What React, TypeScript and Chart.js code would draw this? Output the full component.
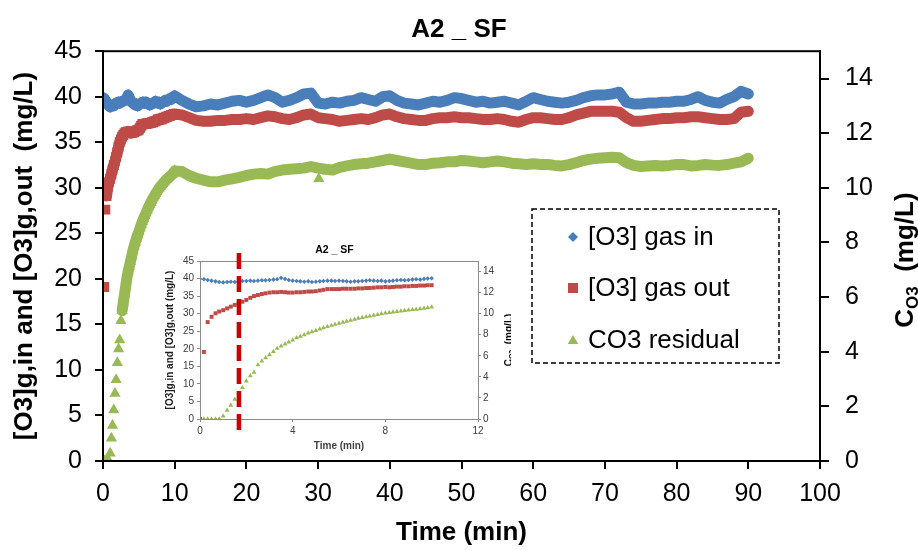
import React, { useEffect, useRef } from "react";
import { Chart, registerables } from "chart.js";

Chart.register(...registerables);

const FONT = "'Liberation Sans', Arial, Helvetica, sans-serif";
const BLUE = "#4A7EBB";
const RED = "#BE4B48";
const GREEN = "#98B954";

const chartTitle = "A2 _ SF";
const xAxisTitle = "Time (min)";
const leftAxisTitle = "[O3]g,in and [O3]g,out  (mg/L)";
const rightAxisMain = "C";
const rightAxisSub = "O3";
const rightAxisUnit = "  (mg/L)";
const legendLabels = ["[O3] gas in", "[O3] gas out", "CO3 residual"];
const insetMarkerTime = 1.68;

// first 10 minutes, one reading every 10 s
const earlyTime = [0, 0.17, 0.33, 0.5, 0.67, 0.83, 1, 1.17, 1.33, 1.5, 1.67, 1.83, 2, 2.17, 2.33, 2.5, 2.67, 2.83, 3, 3.17, 3.33, 3.5, 3.67, 3.83, 4, 4.17, 4.33, 4.5, 4.67, 4.83, 5, 5.17, 5.33, 5.5, 5.67, 5.83, 6, 6.17, 6.33, 6.5, 6.67, 6.83, 7, 7.17, 7.33, 7.5, 7.67, 7.83, 8, 8.17, 8.33, 8.5, 8.67, 8.83, 9, 9.17, 9.33, 9.5, 9.67, 9.83, 10];
const earlyGasIn = [39.9, 39.8, 39.6, 39.4, 39.2, 39.0, 38.9, 39.0, 39.1, 39.0, 39.2, 39.3, 39.3, 39.4, 39.3, 39.4, 39.5, 39.5, 39.6, 39.7, 39.8, 40.2, 39.9, 39.6, 39.4, 39.3, 39.2, 39.1, 39.2, 39.0, 39.1, 39.2, 39.3, 39.4, 39.4, 39.3, 39.4, 39.3, 39.2, 39.1, 39.2, 39.2, 39.3, 39.4, 39.5, 39.4, 39.3, 39.4, 39.2, 39.3, 39.4, 39.5, 39.6, 39.5, 39.6, 39.7, 39.8, 39.7, 39.9, 40.0, 40.1];
const earlyGasOut = [0, 19.1, 27.6, 29.1, 30.1, 30.6, 31.0, 31.5, 32.0, 32.5, 32.9, 33.4, 33.9, 34.5, 35.0, 35.3, 35.6, 35.8, 36.0, 36.1, 36.1, 36.2, 36.1, 36.0, 36.0, 36.1, 36.1, 36.2, 36.3, 36.3, 36.4, 36.6, 36.8, 37.0, 37.0, 37.0, 37.0, 37.1, 37.1, 37.1, 37.1, 37.2, 37.2, 37.3, 37.3, 37.4, 37.5, 37.5, 37.6, 37.5, 37.6, 37.7, 37.7, 37.8, 37.8, 37.9, 37.9, 38.0, 38.0, 38.1, 38.1];
const earlyCO3 = [0, 0, 0, 0, 0, 0, 0.28, 0.83, 1.3, 1.87, 2.47, 2.97, 3.6, 4.1, 4.43, 5.13, 5.5, 5.8, 6.1, 6.4, 6.7, 6.93, 7.12, 7.3, 7.5, 7.7, 7.85, 8.0, 8.15, 8.27, 8.4, 8.53, 8.65, 8.77, 8.88, 8.98, 9.08, 9.18, 9.28, 9.37, 9.46, 9.55, 9.63, 9.7, 9.78, 9.85, 9.92, 9.98, 10.05, 10.1, 10.15, 10.2, 10.25, 10.3, 10.34, 10.38, 10.42, 10.46, 10.5, 10.55, 10.62];

// 11 to 90 minutes, one reading per minute
const lateTime = [11, 12, 13, 14, 15, 16, 17, 18, 19, 20, 21, 22, 23, 24, 25, 26, 27, 28, 29, 30, 31, 32, 33, 34, 35, 36, 37, 38, 39, 40, 41, 42, 43, 44, 45, 46, 47, 48, 49, 50, 51, 52, 53, 54, 55, 56, 57, 58, 59, 60, 61, 62, 63, 64, 65, 66, 67, 68, 69, 70, 71, 72, 73, 74, 75, 76, 77, 78, 79, 80, 81, 82, 83, 84, 85, 86, 87, 88, 89, 90];
const lateGasIn = [39.6, 39.2, 38.9, 39.0, 39.2, 39.1, 39.3, 39.5, 39.6, 39.4, 39.6, 39.9, 40.2, 39.9, 39.4, 39.6, 39.9, 40.3, 40.4, 39.3, 39.2, 39.4, 39.3, 39.5, 39.6, 39.9, 39.7, 39.5, 40.0, 40.1, 39.6, 39.3, 39.2, 39.1, 39.3, 39.5, 39.4, 39.6, 39.9, 39.8, 39.6, 39.4, 39.5, 39.3, 39.4, 39.5, 39.3, 39.1, 39.5, 39.9, 39.7, 39.5, 39.4, 39.3, 39.4, 39.6, 39.9, 40.1, 40.2, 40.2, 40.3, 40.5, 39.4, 39.2, 39.2, 39.3, 39.3, 39.4, 39.4, 39.5, 39.5, 39.7, 40.0, 39.6, 39.4, 39.3, 39.7, 40.0, 40.6, 40.3];
const lateGasOut = [38.0, 37.7, 37.4, 37.3, 37.3, 37.4, 37.4, 37.5, 37.5, 37.6, 37.5, 37.7, 37.9, 37.8, 37.6, 37.5, 37.7, 38.0, 38.1, 37.7, 37.6, 37.5, 37.3, 37.4, 37.5, 37.6, 37.5, 37.7, 38.0, 38.1, 37.8, 37.6, 37.5, 37.4, 37.4, 37.6, 37.7, 37.7, 37.8, 37.7, 37.7, 37.6, 37.5, 37.5, 37.6, 37.5, 37.3, 37.2, 37.5, 37.7, 37.7, 37.6, 37.5, 37.5, 37.7, 38.0, 38.2, 38.4, 38.4, 38.4, 38.4, 38.3, 37.7, 37.3, 37.3, 37.4, 37.5, 37.6, 37.6, 37.7, 37.7, 37.8, 37.8, 37.7, 37.6, 37.5, 37.5, 37.6, 38.3, 38.4];
const lateCO3 = [10.6, 10.45, 10.35, 10.28, 10.22, 10.22, 10.28, 10.33, 10.38, 10.45, 10.5, 10.52, 10.5, 10.6, 10.65, 10.68, 10.7, 10.72, 10.78, 10.72, 10.68, 10.65, 10.75, 10.8, 10.85, 10.88, 10.9, 10.95, 11.0, 11.05, 11.0, 10.95, 10.9, 10.85, 10.85, 10.9, 10.92, 10.95, 10.95, 11.0, 10.98, 10.95, 10.92, 10.95, 10.98, 10.95, 10.9, 10.88, 10.85, 10.88, 10.85, 10.85, 10.82, 10.8, 10.85, 10.92, 11.0, 11.05, 11.08, 11.1, 11.12, 11.1, 10.92, 10.82, 10.78, 10.8, 10.82, 10.8, 10.82, 10.85, 10.85, 10.8, 10.82, 10.85, 10.83, 10.82, 10.85, 10.9, 10.95, 11.08];

// one stray CO3 reading
const co3OutlierTime = [30.1];
const co3OutlierValue = [10.33];

type Pt = { x: number; y: number };
const pts = (t: number[], v: number[]): Pt[] => t.map((x, i) => ({ x, y: v[i] }));

function drawCO3Title(ctx: CanvasRenderingContext2D, cx: number, cy: number, big: number, small: number) {
  ctx.save();
  ctx.translate(cx, cy);
  ctx.rotate(-Math.PI / 2);
  ctx.fillStyle = "#000";
  ctx.textBaseline = "middle";
  ctx.textAlign = "left";
  const fBig = `bold ${big}px ${FONT}`;
  const fSmall = `bold ${small}px ${FONT}`;
  ctx.font = fBig;
  const wC = ctx.measureText(rightAxisMain).width;
  const wRest = ctx.measureText(rightAxisUnit).width;
  ctx.font = fSmall;
  const wSub = ctx.measureText(rightAxisSub).width;
  let x = -(wC + wSub + wRest) / 2;
  ctx.font = fBig;
  ctx.fillText(rightAxisMain, x, 0);
  x += wC;
  ctx.font = fSmall;
  ctx.fillText(rightAxisSub, x, big * 0.3);
  x += wSub;
  ctx.font = fBig;
  ctx.fillText(rightAxisUnit, x, 0);
  ctx.restore();
}

function drawMarker(ctx: CanvasRenderingContext2D, kind: string, x: number, y: number, r: number, color: string) {
  ctx.fillStyle = color;
  ctx.beginPath();
  if (kind === "diamond") {
    ctx.moveTo(x, y - r); ctx.lineTo(x + r, y); ctx.lineTo(x, y + r); ctx.lineTo(x - r, y);
  } else if (kind === "square") {
    ctx.rect(x - r, y - r, 2 * r, 2 * r);
  } else {
    ctx.moveTo(x, y - r); ctx.lineTo(x + r * 1.05, y + r * 0.8); ctx.lineTo(x - r * 1.05, y + r * 0.8);
  }
  ctx.closePath();
  ctx.fill();
}

const mainDecor = {
  id: "mainDecor",
  afterDraw(chart: any) {
    const ctx: CanvasRenderingContext2D = chart.ctx;
    const a = chart.chartArea;
    ctx.save();
    ctx.strokeStyle = "#000";
    ctx.lineWidth = 2;
    ctx.strokeRect(a.left, a.top, a.right - a.left, a.bottom - a.top);
    drawCO3Title(ctx, 906, (a.top + a.bottom) / 2 + 4, 26, 17);
    // legend
    ctx.lineWidth = 1.5;
    ctx.setLineDash([5, 3]);
    ctx.strokeRect(532, 209, 247, 154);
    ctx.setLineDash([]);
    const rows = [237, 288, 340];
    const kinds = ["diamond", "square", "triangle"];
    const colors = [BLUE, RED, GREEN];
    ctx.font = `26px ${FONT}`;
    ctx.textBaseline = "middle";
    ctx.textAlign = "left";
    rows.forEach((ry, i) => {
      drawMarker(ctx, kinds[i], 573, ry, 5, colors[i]);
      ctx.fillStyle = "#000";
      ctx.fillText(legendLabels[i], 588, ry + 1);
    });
    ctx.restore();
  },
};

const insetDecor = {
  id: "insetDecor",
  beforeDraw(chart: any) {
    const ctx: CanvasRenderingContext2D = chart.ctx;
    ctx.save();
    ctx.fillStyle = "#fff";
    ctx.fillRect(0, 0, chart.width, chart.height);
    ctx.restore();
  },
  afterDraw(chart: any) {
    const ctx: CanvasRenderingContext2D = chart.ctx;
    const a = chart.chartArea;
    ctx.save();
    ctx.strokeStyle = "#8c8c8c";
    ctx.lineWidth = 1;
    ctx.strokeRect(Math.round(a.left) + 0.5, Math.round(a.top) + 0.5, Math.round(a.right - a.left), Math.round(a.bottom - a.top));
    const x = chart.scales.x.getPixelForValue(insetMarkerTime);
    ctx.strokeStyle = "#CC0000";
    ctx.lineWidth = 4.5;
    ctx.setLineDash([16, 7]);
    ctx.beginPath();
    ctx.moveTo(x, a.top - 8);
    ctx.lineTo(x, a.bottom + 16);
    ctx.stroke();
    ctx.setLineDash([]);
    drawCO3Title(ctx, chart.width - 2, (a.top + a.bottom) / 2, 10, 7);
    ctx.restore();
  },
};

function axisTicks(size: number, color: string, padding: number) {
  return { font: { family: FONT, size }, color, padding };
}

function mainConfig(): any {
  const band = (data: Pt[], color: string, axis: string) => ({
    type: "scatter",
    data,
    showLine: true,
    borderColor: color,
    borderWidth: 11,
    borderJoinStyle: "round",
    borderCapStyle: "round",
    pointRadius: 0,
    tension: 0,
    yAxisID: axis,
  });
  const marks = (data: Pt[], color: string, style: string, r: number, axis: string) => ({
    type: "scatter",
    data,
    showLine: false,
    pointStyle: style,
    pointRadius: r,
    backgroundColor: color,
    borderColor: color,
    borderWidth: 0,
    yAxisID: axis,
  });
  const inAll = pts(earlyTime, earlyGasIn).concat(pts(lateTime, lateGasIn));
  const outAll = pts(earlyTime, earlyGasOut).concat(pts(lateTime, lateGasOut)).filter((p) => p.x >= 0.5);
  const co3All = pts(earlyTime, earlyCO3).concat(pts(lateTime, lateCO3)).filter((p) => p.x >= 2.6);
  return {
    type: "scatter",
    data: {
      datasets: [
        marks(pts(earlyTime, earlyCO3).concat(pts(co3OutlierTime, co3OutlierValue)), GREEN, "triangle", 6.5, "y1"),
        band(co3All, GREEN, "y1"),
        marks(pts(earlyTime, earlyGasOut), RED, "rect", 7, "y"),
        band(outAll, RED, "y"),
        marks(pts(earlyTime, earlyGasIn), BLUE, "rectRot", 6, "y"),
        band(inAll, BLUE, "y"),
      ],
    },
    options: {
      animation: false,
      responsive: false,
      events: [],
      layout: { padding: 0 },
      plugins: {
        legend: { display: false },
        tooltip: { enabled: false },
        title: {
          display: true,
          text: chartTitle,
          color: "#000",
          font: { family: FONT, size: 26, weight: "bold" },
          padding: { top: 14, bottom: 6 },
        },
      },
      scales: {
        x: {
          type: "linear",
          min: 0,
          max: 100,
          ticks: { ...axisTicks(25, "#000", 10), stepSize: 10 },
          grid: { display: true, drawOnChartArea: false, drawTicks: true, tickLength: 8, color: "#000", lineWidth: 2 },
          border: { display: true, color: "#000", width: 2 },
          title: { display: true, text: xAxisTitle, color: "#000", font: { family: FONT, size: 26, weight: "bold" }, padding: { top: 0, bottom: 2 } },
          afterFit: (s: any) => { s.height = 89; },
        },
        y: {
          position: "left",
          min: 0,
          max: 45,
          ticks: { ...axisTicks(25, "#000", 13), stepSize: 5 },
          grid: { display: true, drawOnChartArea: false, drawTicks: true, tickLength: 8, color: "#000", lineWidth: 2 },
          border: { display: true, color: "#000", width: 2 },
          title: { display: true, text: leftAxisTitle, color: "#000", font: { family: FONT, size: 26, weight: "bold" }, padding: { top: 9, bottom: 0 } },
          afterFit: (s: any) => { s.width = 103; },
        },
        y1: {
          position: "right",
          min: 0,
          max: 15,
          ticks: { ...axisTicks(25, "#000", 16), stepSize: 2, includeBounds: false },
          grid: { display: true, drawOnChartArea: false, drawTicks: true, tickLength: 9, color: "#000", lineWidth: 2 },
          border: { display: true, color: "#000", width: 2 },
          afterFit: (s: any) => { s.width = 98; },
        },
      },
    },
    plugins: [mainDecor],
  };
}

function insetConfig(): any {
  const marks = (data: Pt[], color: string, style: string, r: number, axis: string) => ({
    type: "scatter",
    data,
    showLine: false,
    pointStyle: style,
    pointRadius: r,
    backgroundColor: color,
    borderColor: color,
    borderWidth: 0,
    yAxisID: axis,
  });
  const grey = "#8c8c8c";
  return {
    type: "scatter",
    data: {
      datasets: [
        marks(pts(earlyTime, earlyGasIn), BLUE, "rectRot", 2.3, "y"),
        marks(pts(earlyTime, earlyGasOut), RED, "rect", 2.8, "y"),
        marks(pts(earlyTime, earlyCO3), GREEN, "triangle", 2.8, "y1"),
      ],
    },
    options: {
      animation: false,
      responsive: false,
      events: [],
      layout: { padding: 0 },
      plugins: {
        legend: { display: false },
        tooltip: { enabled: false },
        title: {
          display: true,
          text: chartTitle,
          color: "#000",
          font: { family: FONT, size: 10.5, weight: "bold" },
          padding: { top: 4, bottom: 4.4 },
        },
      },
      scales: {
        x: {
          type: "linear",
          min: 0,
          max: 12,
          ticks: { ...axisTicks(10, "#404040", 3), stepSize: 4 },
          grid: { display: true, drawOnChartArea: false, drawTicks: true, tickLength: 3, color: grey, lineWidth: 1 },
          border: { display: true, color: grey, width: 1 },
          title: { display: true, text: xAxisTitle, color: "#404040", font: { family: FONT, size: 10, weight: "bold" }, padding: { top: 0, bottom: 3 } },
          afterFit: (s: any) => { s.height = 36; },
        },
        y: {
          position: "left",
          min: 0,
          max: 45,
          ticks: { ...axisTicks(10, "#404040", 3), stepSize: 5 },
          grid: { display: true, drawOnChartArea: false, drawTicks: true, tickLength: 3, color: grey, lineWidth: 1 },
          border: { display: true, color: grey, width: 1 },
          title: { display: true, text: "[O3]g,in and [O3]g,out (mg/L)", color: "#202020", font: { family: FONT, size: 10, weight: "bold" }, padding: { top: 6, bottom: 0 } },
          afterFit: (s: any) => { s.width = 42; },
        },
        y1: {
          position: "right",
          min: 0,
          max: 15,
          ticks: { ...axisTicks(10, "#404040", 2), stepSize: 2, includeBounds: false },
          grid: { display: true, drawOnChartArea: false, drawTicks: true, tickLength: 3, color: grey, lineWidth: 1 },
          border: { display: true, color: grey, width: 1 },
          afterFit: (s: any) => { s.width = 33; },
        },
      },
    },
    plugins: [insetDecor],
  };
}

export default function App() {
  const mainRef = useRef<HTMLCanvasElement>(null);
  const insetRef = useRef<HTMLCanvasElement>(null);
  useEffect(() => {
    const main = new Chart(mainRef.current as HTMLCanvasElement, mainConfig());
    const inset = new Chart(insetRef.current as HTMLCanvasElement, insetConfig());
    return () => {
      main.destroy();
      inset.destroy();
    };
  }, []);
  return (
    <div style={{ position: "fixed", left: 0, top: 0, width: 918, height: 550, background: "#fff", overflow: "hidden" }}>
      <canvas ref={mainRef} width={918} height={550} style={{ position: "absolute", left: 0, top: 0, width: 918, height: 550 }} />
      <canvas ref={insetRef} width={353} height={215} style={{ position: "absolute", left: 158, top: 240, width: 353, height: 215 }} />
    </div>
  );
}
